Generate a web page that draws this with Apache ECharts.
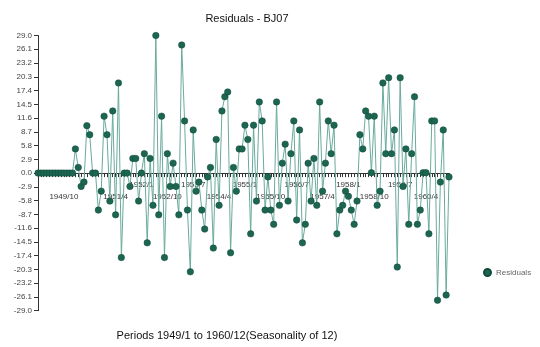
<!DOCTYPE html>
<html>
<head>
<meta charset="utf-8">
<script src="https://cdn.jsdelivr.net/npm/echarts@6/dist/echarts.min.js"></script>
<style>html,body{margin:0;padding:0;background:#fff}#c{width:540px;height:347px}</style>
</head>
<body>
<div id="c"></div>
<script>
var years = [1949,1950,1951,1952,1953,1954,1955,1956,1957,1958,1959,1960];
var periods = [];
years.forEach(function(y){ for (var m = 1; m <= 12; m++) periods.push(y + '/' + m); });

var residuals = [
  0,0,0,0,0,0,0,0,0,0,0,0,0,
  5.1,1.2,-2.8,-1.9,10.0,8.1,0,0,-7.8,-3.8,12.0,8.1,-5.9,13.1,-8.8,19.0,-17.8,0,0,
  -2.8,3.1,3.1,-5.9,0,4.1,-14.7,3.1,-6.8,29.0,-8.8,12.0,-17.8,4.1,-2.8,2.1,-2.8,
  -8.8,27.0,11.0,-7.8,-20.8,9.1,-3.8,-1.9,-7.8,-11.8,-0.8,1.2,-15.8,7.1,-6.8,13.1,
  16.1,17.1,-16.8,1.2,-3.8,5.1,5.1,10.1,7.1,-12.8,10.1,-5.9,15.0,11.0,-7.8,-0.8,
  -7.8,-10.8,15.0,-6.8,2.1,6.1,-5.9,4.1,11.0,-9.9,9.1,-14.7,-10.8,2.1,-5.9,3.1,
  -6.8,15.0,-3.8,2.1,11.0,4.1,10.1,-12.8,-7.8,-6.8,-3.8,-4.9,-7.8,-10.8,-5.9,8.1,
  5.1,13.1,12.0,0.1,12.0,-6.8,-3.8,19.0,4.1,20.1,4.1,9.1,-19.8,20.1,-2.8,5.1,
  -10.8,4.1,16.1,-10.8,-7.8,0.1,0.1,-12.8,11.0,11.0,-26.8,-1.9,9.1,-25.7,-0.8
];

var yMin = -29.0, yMax = 29.0, yStep = 2.9;
var labelEvery = 9;

var chart = echarts.init(document.getElementById('c'));
chart.setOption({
  animation: false,
  backgroundColor: '#fff',
  textStyle: { fontFamily: 'Liberation Sans, Arial, sans-serif' },
  title: [
    { text: 'Residuals - BJ07', left: 242, top: 8, textAlign: 'center',
      textStyle: { fontSize: 11, fontWeight: 'normal', color: '#111' } },
    { text: 'Periods 1949/1 to 1960/12(Seasonality of 12)', left: 222, top: 325, textAlign: 'center',
      textStyle: { fontSize: 11, fontWeight: 'normal', color: '#111' } }
  ],
  legend: {
    left: 483, top: 268, padding: 0, icon: 'circle', itemWidth: 7, itemHeight: 7, itemGap: 4,
    textStyle: { fontSize: 8, color: '#666' },
    data: ['Residuals']
  },
  grid: { left: 38, right: 91, top: 35.5, bottom: 36.3, containLabel: false },
  xAxis: {
    type: 'category', data: periods, boundaryGap: false,
    axisLine: { onZero: true, lineStyle: { color: '#333', width: 1 } },
    axisTick: { interval: 0, length: 4, lineStyle: { color: '#333' } },
    axisLabel: {
      interval: function (i) { return i > 0 && i % labelEvery === 0; },
      formatter: function (v, i) { return ((i / labelEvery) % 2 === 1 ? '\n' : '') + v; },
      fontSize: 8, color: '#333', margin: -132, lineHeight: 12,
      showMinLabel: true, showMaxLabel: true, hideOverlap: false
    },
    splitLine: { show: false }
  },
  yAxis: {
    type: 'value', min: yMin, max: yMax, interval: yStep,
    axisLine: { show: true, lineStyle: { color: '#333' } },
    axisTick: { show: true, length: 4, lineStyle: { color: '#333' } },
    axisLabel: { fontSize: 8, color: '#444', margin: 6,
      formatter: function (v) { return v.toFixed(1); } },
    splitLine: { show: false }
  },
  series: [{
    name: 'Residuals', type: 'line', data: residuals,
    symbol: 'circle', symbolSize: 6.5, showAllSymbol: true,
    lineStyle: { color: '#6aaa9c', width: 1 },
    itemStyle: { color: '#1c6651', borderColor: '#124a3b', borderWidth: 0.5 }
  }]
});
</script>
</body>
</html>
